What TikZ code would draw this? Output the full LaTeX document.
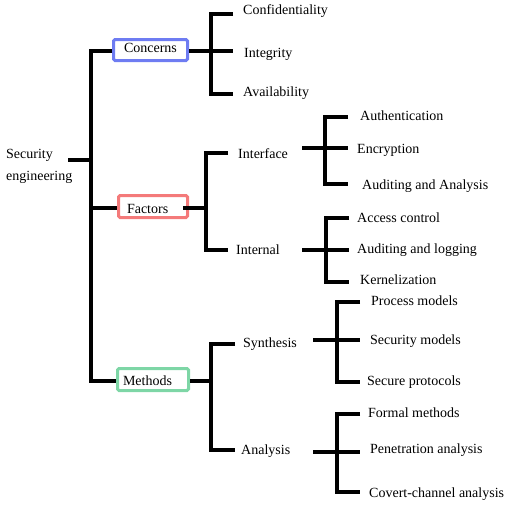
\documentclass[tikz,border=0pt]{standalone}
\usepackage{fontspec}
\setmainfont{Liberation Serif}
\definecolor{concblue}{HTML}{6E7CF2}
\definecolor{factred}{HTML}{F47A7A}
\definecolor{methgreen}{HTML}{7ED6A6}
\begin{document}
\begin{tikzpicture}[x=1pt,y=-1pt,
  every node/.style={font=\fontsize{14}{22}\selectfont, inner sep=0pt},
  lbl/.style={anchor=base west},
  cat/.style={draw, line width=3pt, rounded corners=1.5pt, inner sep=0pt, align=left, text depth=0pt},
  wire/.style={line width=4pt, line join=miter}]
\useasboundingbox (0,0) rectangle (520,506);

% root
\node[anchor=base west, align=left] (root) at (6,180) {Security\\engineering};

% category boxes
\node[cat, draw=concblue, minimum width=74pt, minimum height=21pt, text width=53pt, text height=4.6pt] (conc) at (150.5,50) {Concerns};
\node[cat, draw=factred, minimum width=69pt, minimum height=22pt, text width=52pt, text height=13.6pt] (fact) at (153,206.5) {Factors};
\node[cat, draw=methgreen, minimum width=71pt, minimum height=22pt, text width=60pt, text height=11pt] (meth) at (153,379.5) {Methods};

% level 2 labels
\node[lbl] (conf) at (243,15) {Confidentiality};
\node[lbl] (integ) at (244,57) {Integrity};
\node[lbl] (avail) at (243,96) {Availability};
\node[lbl] (iface) at (238,158) {Interface};
\node[lbl] (intern) at (236,254) {Internal};
\node[lbl] (synth) at (243,347) {Synthesis};
\node[lbl] (anal) at (241,454) {Analysis};

% level 3 labels
\node[lbl] (authn) at (360,120) {Authentication};
\node[lbl] (encr) at (357,153) {Encryption};
\node[lbl] (audan) at (362,189) {Auditing and Analysis};
\node[lbl] (acc) at (357,222) {Access control};
\node[lbl] (audlog) at (357,253) {Auditing and logging};
\node[lbl] (kern) at (360,284) {Kernelization};
\node[lbl] (procm) at (371,305) {Process models};
\node[lbl] (secm) at (370,344) {Security models};
\node[lbl] (secp) at (367,385) {Secure protocols};
\node[lbl] (formm) at (368,417) {Formal methods};
\node[lbl] (penan) at (370,453) {Penetration analysis};
\node[lbl] (covan) at (369,497) {Covert-channel analysis};

% junction coordinates
\coordinate (rootend) at (68,160);
\coordinate (bus0) at (91,160);
\coordinate (busC) at (91,51);
\coordinate (busF) at (91,208);
\coordinate (busM) at (91,381);

\coordinate (cJ) at (211,51);
\coordinate (c1) at (233,14);
\coordinate (c2) at (233,51);
\coordinate (c3) at (233,94);

\coordinate (fJ) at (206,208);
\coordinate (f1) at (228,153);
\coordinate (f2) at (228,250);

\coordinate (iS) at (302,148);
\coordinate (iJ) at (325,148);
\coordinate (i1) at (348,117);
\coordinate (i2) at (348,148);
\coordinate (i3) at (348,184);

\coordinate (nS) at (302,250);
\coordinate (nJ) at (326,250);
\coordinate (n1) at (349,218);
\coordinate (n2) at (349,250);
\coordinate (n3) at (349,282);

\coordinate (mJ) at (211,381);
\coordinate (m1) at (235,344);
\coordinate (m2) at (235,450);

\coordinate (sS) at (313,340);
\coordinate (sJ) at (337,340);
\coordinate (s1) at (360,302);
\coordinate (s2) at (360,340);
\coordinate (s3) at (360,382);

\coordinate (aS) at (313,452);
\coordinate (aJ) at (337,452);
\coordinate (a1) at (360,414);
\coordinate (a2) at (360,452);
\coordinate (a3) at (360,492);

% root bus
\draw[wire] (rootend) -- (bus0);
\draw[wire] (busC -| conc.west) -- (busC) -- (busM) -- (busM -| meth.west);
\draw[wire] (busF) -- (busF -| fact.west);

% concerns bracket
\draw[wire] (c2 -| conc.east) -- (c2);
\draw[wire] (c1) -- (c1 -| cJ) -- (c3 -| cJ) -- (c3);

% factors bracket
\draw[wire] ([xshift=-6pt]fact.east |- fJ) -- (fJ);
\draw[wire] (f1) -- (f1 -| fJ) -- (f2 -| fJ) -- (f2);

% interface bracket
\draw[wire] (iS) -- (i2);
\draw[wire] (i1) -- (i1 -| iJ) -- (i3 -| iJ) -- (i3);

% internal bracket
\draw[wire] (nS) -- (n2);
\draw[wire] (n1) -- (n1 -| nJ) -- (n3 -| nJ) -- (n3);

% methods bracket
\draw[wire] (meth.east |- mJ) -- (mJ);
\draw[wire] (m1) -- (m1 -| mJ) -- (m2 -| mJ) -- (m2);

% synthesis bracket
\draw[wire] (sS) -- (s2);
\draw[wire] (s1) -- (s1 -| sJ) -- (s3 -| sJ) -- (s3);

% analysis bracket
\draw[wire] (aS) -- (a2);
\draw[wire] (a1) -- (a1 -| aJ) -- (a3 -| aJ) -- (a3);
\end{tikzpicture}
\end{document}
